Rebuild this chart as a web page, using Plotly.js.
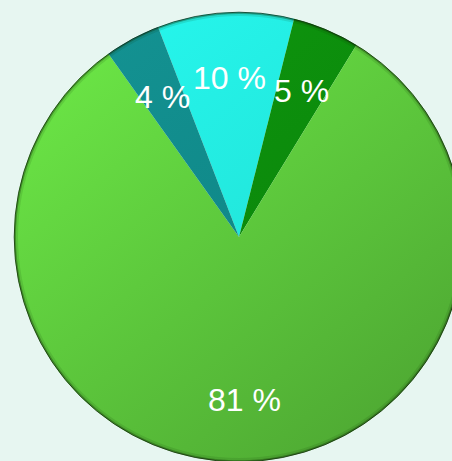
<!DOCTYPE html>
<html>
<head>
<meta charset="utf-8">
<script src="https://cdn.plot.ly/plotly-3.0.1.min.js"></script>
<style>
  html, body { margin: 0; padding: 0; background: #e7f6f1; overflow: hidden; width: 452px; height: 461px; }
  #chart { position: absolute; left: 0; top: 0; width: 480px; height: 480px; }
</style>
</head>
<body>
<div id="chart"></div>
<script>
// ---- data ----
const sliceNames = ["A", "B", "C", "D"];
const sliceValues = [9.8, 4.8, 81.4, 4.0];
const sliceColors = ["#22ecdf", "#0a8a0a", "#5ccb3c", "#108a8a"];
const gradientStops = [
  ["#26f8ef", "#1fd8cb"],
  ["#0f990f", "#087c08"],
  ["#6dea47", "#4ca431"],
  ["#149393", "#0b7f7f"]
];

// ---- geometry of the page ----
const W = 480, H = 480;
const cx = 239, cy = 237, R = 225;
const rotation = -21.1;
const labelR = 161;

const domX = [(cx - R) / W, (cx + R) / W];
const domY = [(H - (cy + R)) / H, (H - (cy - R)) / H];

const total = sliceValues.reduce((a, b) => a + b, 0);
const annotations = [];
let acc = 0;
sliceValues.forEach((v, i) => {
  const mid = (rotation + (acc + v / 2) / total * 360) * Math.PI / 180;
  acc += v;
  const px = cx + labelR * Math.sin(mid);
  const py = cy - labelR * Math.cos(mid) + 2;
  annotations.push({
    xref: "paper", yref: "paper",
    x: px / W, y: (H - py) / H,
    xanchor: "center", yanchor: "middle",
    text: Math.round(v / total * 100) + " %",
    showarrow: false,
    font: { family: "Liberation Sans, Arial, sans-serif", size: 32, color: "#ffffff" }
  });
});

const trace = {
  type: "pie",
  labels: sliceNames,
  values: sliceValues,
  sort: false,
  direction: "clockwise",
  rotation: rotation,
  textinfo: "none",
  textposition: "none",
  hoverinfo: "none",
  marker: { colors: sliceColors, line: { width: 0 } },
  domain: { x: domX, y: domY }
};

function circleShape(r, color, width) {
  return {
    type: "circle", xref: "paper", yref: "paper", layer: "above",
    x0: (cx - r) / W, x1: (cx + r) / W,
    y0: (H - (cy + r)) / H, y1: (H - (cy - r)) / H,
    line: { color: color, width: width }
  };
}

const layout = {
  width: W, height: H,
  margin: { l: 0, r: 0, t: 0, b: 0, pad: 0 },
  paper_bgcolor: "#e7f6f1",
  plot_bgcolor: "#e7f6f1",
  showlegend: false,
  annotations: annotations,
  shapes: [
    circleShape(R - 2.5, "rgba(20,60,10,0.12)", 3),
    circleShape(R - 1.2, "rgba(20,50,10,0.35)", 1.5),
    circleShape(R - 0.2, "rgba(15,35,10,0.75)", 1)
  ]
};

Plotly.newPlot("chart", [trace], layout, { staticPlot: true, displayModeBar: false }).then(() => {
  const svg = document.querySelector("#chart .main-svg");
  const ns = "http://www.w3.org/2000/svg";
  let defs = svg.querySelector("defs");
  if (!defs) { defs = document.createElementNS(ns, "defs"); svg.insertBefore(defs, svg.firstChild); }
  const sliceG = document.querySelector("#chart g.slice");
  const tr = sliceG ? sliceG.getAttribute("transform") : null;
  const local = !!(tr && /translate/.test(tr));
  gradientStops.forEach((st, i) => {
    const g = document.createElementNS(ns, "linearGradient");
    g.setAttribute("id", "sliceGrad" + i);
    g.setAttribute("gradientUnits", "userSpaceOnUse");
    const ox = local ? 0 : cx, oy = local ? 0 : cy;
    g.setAttribute("x1", ox - R * 0.8); g.setAttribute("y1", oy - R);
    g.setAttribute("x2", ox + R * 0.8); g.setAttribute("y2", oy + R);
    [[0, st[0]], [1, st[1]]].forEach(([o, c]) => {
      const s = document.createElementNS(ns, "stop");
      s.setAttribute("offset", o); s.setAttribute("stop-color", c);
      g.appendChild(s);
    });
    defs.appendChild(g);
  });
  document.querySelectorAll("#chart g.slice path.surface").forEach((p, i) => {
    p.style.fill = "url(#sliceGrad" + i + ")";
  });
});
</script>
</body>
</html>
